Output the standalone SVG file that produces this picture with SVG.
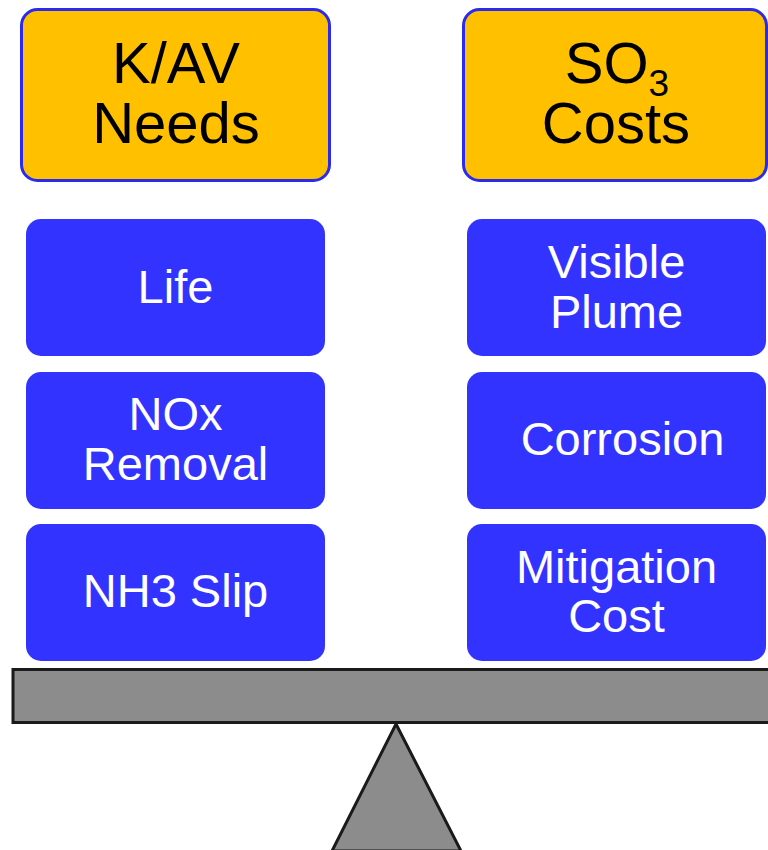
<svg xmlns="http://www.w3.org/2000/svg" width="768" height="850" viewBox="0 0 768 850">
<style>
.hdr{fill:#FFC000;stroke:#2B2BEE;stroke-width:3}
.item{fill:#3333FF}
.ht{font-family:"Liberation Sans",Arial,sans-serif;font-size:58px;fill:#000;text-anchor:middle}
.it{font-family:"Liberation Sans",Arial,sans-serif;font-size:47px;fill:#fff;text-anchor:middle}
.part{fill:#8C8C8C;stroke:#1A1A1A;stroke-width:3;stroke-linejoin:miter}
</style>
<rect width="768" height="850" fill="#fff"/>
<g id="kav-needs">
<rect class="hdr" x="21.5" y="9.5" width="308" height="171" rx="16"/>
<text class="ht" x="176" y="83">K/AV</text>
<text class="ht" x="176" y="143">Needs</text>
</g>
<g id="so3-costs">
<rect class="hdr" x="463.5" y="9.5" width="303" height="171" rx="16"/>
<text class="ht" x="617" y="83">SO<tspan font-size="37" dy="13">3</tspan></text>
<text class="ht" x="616" y="143">Costs</text>
</g>
<g id="life">
<rect class="item" x="26" y="219" width="299" height="137" rx="15"/>
<text class="it" x="175.5" y="303">Life</text>
</g>
<g id="nox-removal">
<rect class="item" x="26" y="372" width="299" height="137" rx="15"/>
<text class="it" x="175.5" y="430">NOx</text>
<text class="it" x="175.5" y="480">Removal</text>
</g>
<g id="nh3-slip">
<rect class="item" x="26" y="524" width="299" height="137" rx="15"/>
<text class="it" x="175.5" y="607">NH3 Slip</text>
</g>
<g id="visible-plume">
<rect class="item" x="467" y="219" width="299" height="137" rx="15"/>
<text class="it" x="616.5" y="278">Visible</text>
<text class="it" x="616.5" y="328">Plume</text>
</g>
<g id="corrosion">
<rect class="item" x="467" y="372" width="299" height="137" rx="15"/>
<text class="it" x="622.5" y="455">Corrosion</text>
</g>
<g id="mitigation-cost">
<rect class="item" x="467" y="524" width="299" height="137" rx="15"/>
<text class="it" x="616.5" y="583">Mitigation</text>
<text class="it" x="616.5" y="632">Cost</text>
</g>
<g id="connectors"></g>
<g id="balance">
<rect class="part" x="13" y="669.5" width="770" height="53"/>
<polygon class="part" points="396,724 461,851 332,851"/>
</g>
</svg>
